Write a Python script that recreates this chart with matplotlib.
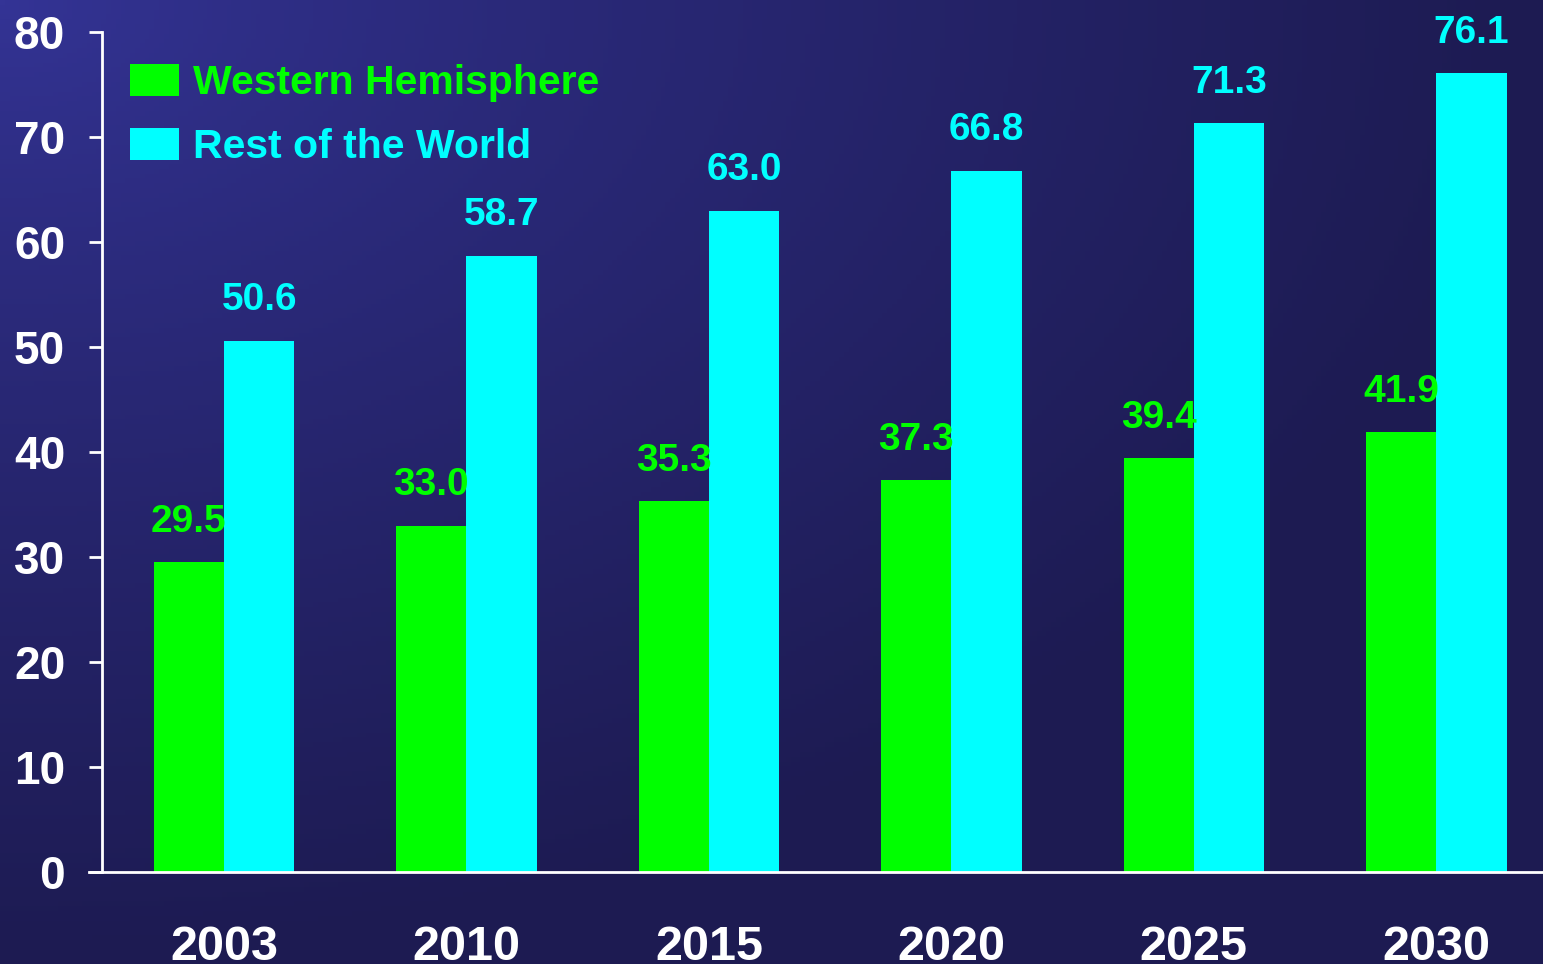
import numpy as np
import matplotlib.pyplot as plt

plt.rcParams['font.family'] = ['Liberation Sans', 'DejaVu Sans']
plt.rcParams['font.weight'] = 'bold'

# data
years = ['2003', '2010', '2015', '2020', '2025', '2030']
western = [29.5, 33.0, 35.3, 37.3, 39.4, 41.9]
rest = [50.6, 58.7, 63.0, 66.8, 71.3, 76.1]
yticks = [0, 10, 20, 30, 40, 50, 60, 70, 80]

green = '#00ff00'
cyan = '#00ffff'

fig = plt.figure(figsize=(15.43, 9.64), dpi=100)

# background gradient, lighter in the top-left corner
bg = fig.add_axes([0, 0, 1, 1], zorder=-1)
h, w = 200, 320
yy, xx = np.mgrid[0:h, 0:w]
d = np.sqrt((xx / w) ** 2 + (yy / h) ** 2) / np.sqrt(2)
t = np.clip(d / 0.7, 0, 1) ** 0.8
c0 = np.array([52, 52, 150]) / 255
c1 = np.array([29, 27, 82]) / 255
img = c0[None, None, :] * (1 - t[..., None]) + c1[None, None, :] * t[..., None]
bg.imshow(img, aspect='auto', extent=[0, 1, 0, 1], origin='upper')
bg.axis('off')

ax = fig.add_axes([102 / 1543, 92 / 964, 1 - 102 / 1543, 840 / 964])
ax.patch.set_alpha(0)

x = np.arange(len(years))
width = 0.29
b1 = ax.bar(x - width / 2, western, width, color=green, label='Western Hemisphere')
b2 = ax.bar(x + width / 2, rest, width, color=cyan, label='Rest of the World')

ax.bar_label(b1, labels=[f'{v:.1f}' for v in western], padding=16,
             color=green, fontsize=28, fontweight='bold')
ax.bar_label(b2, labels=[f'{v:.1f}' for v in rest], padding=16,
             color=cyan, fontsize=28, fontweight='bold')

ax.set_ylim(0, 80)
ax.set_xlim(-0.503, 5.44)
ax.set_yticks(yticks)
ax.set_xticks(x)
ax.set_xticklabels(years)

for s in ['top', 'right']:
    ax.spines[s].set_visible(False)
ax.spines['left'].set_color('white')
ax.spines['left'].set_linewidth(2)
ax.spines['bottom'].set_color('white')
ax.spines['bottom'].set_linewidth(2)
ax.spines['bottom'].set_bounds(-0.557, 5.44)

ax.tick_params(axis='y', colors='white', length=9.5, width=2, pad=17, labelsize=33)
ax.tick_params(axis='x', colors='white', length=0, pad=38, labelsize=35)

leg = ax.legend(loc='upper left', bbox_to_anchor=(0.0194, 0.962), frameon=False,
                fontsize=29.5, handlelength=1.2, handleheight=0.81,
                handletextpad=0.33, labelspacing=0.64, borderpad=0,
                labelcolor=[green, cyan], borderaxespad=0)
for txt in leg.get_texts():
    txt.set_fontweight('bold')

fig.savefig('out.png', dpi=100)
